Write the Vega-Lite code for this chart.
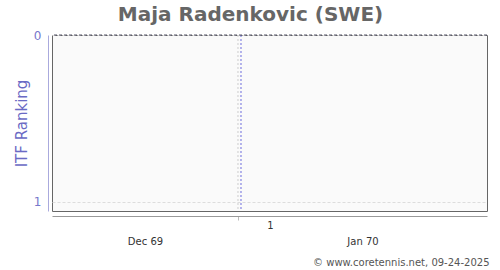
{
  "$schema": "https://vega.github.io/schema/vega-lite/v6.json",
  "width": 435,
  "height": 176,
  "autosize": "none",
  "padding": {"left": 52, "top": 35, "right": 13, "bottom": 59},
  "background": "white",
  "config": {
    "view": {"fill": "#fafafa", "stroke": "#666666", "strokeWidth": 1},
    "font": "DejaVu Sans"
  },
  "title": {
    "text": "Maja Radenkovic (SWE)",
    "font": "DejaVu Sans",
    "fontSize": 20,
    "fontWeight": "bold",
    "color": "#666666",
    "anchor": "middle",
    "dx": -19,
    "offset": 4
  },
  "layer": [
    {
      "data": {"values": [{"t": 0}]},
      "mark": {"type": "rule", "color": "#cccccc", "strokeDash": [2, 2], "strokeWidth": 1},
      "encoding": {
        "x": {
          "field": "t",
          "type": "quantitative",
          "scale": {"domain": [-2.906, 3.891], "nice": false, "zero": false},
          "axis": {
            "orient": "bottom",
            "values": [0],
            "labelExpr": "'1'",
            "grid": false,
            "offset": 5,
            "domainColor": "#999999",
            "tickColor": "#bbbbbb",
            "tickSize": 4,
            "labelOffset": 32,
            "labelPadding": 0,
            "labelColor": "#333333",
            "labelFontSize": 10,
            "title": null
          }
        }
      }
    },
    {
      "data": {"values": [{"t": 0.047}]},
      "mark": {"type": "rule", "color": "#6b6bdd", "strokeDash": [2, 2], "strokeWidth": 1},
      "encoding": {
        "x": {
          "field": "t",
          "type": "quantitative",
          "axis": {
            "orient": "bottom",
            "values": [-1.453, 1.945],
            "labelExpr": "datum.value < 0 ? 'Dec 69' : 'Jan 70'",
            "grid": false,
            "domain": false,
            "ticks": false,
            "offset": 5,
            "labelPadding": 20,
            "labelColor": "#333333",
            "labelFontSize": 10,
            "title": "© www.coretennis.net, 09-24-2025",
            "titleAnchor": "end",
            "titleX": 437,
            "titleFontSize": 10,
            "titleFontWeight": "normal",
            "titleColor": "#555555",
            "titlePadding": 11
          }
        }
      }
    },
    {
      "data": {"values": [{"r": 0}]},
      "mark": {"type": "rule", "color": "#555566", "strokeDash": [3, 2], "strokeWidth": 1},
      "encoding": {
        "y": {
          "field": "r",
          "type": "quantitative",
          "scale": {"domain": [0, 1.054], "nice": false, "zero": false, "reverse": true},
          "axis": {
            "values": [0, 1],
            "format": "d",
            "grid": true,
            "gridColor": "#dddddd",
            "gridDash": [3, 2],
            "offset": 4,
            "domainColor": "#aaaadd",
            "ticks": false,
            "labelPadding": 7,
            "labelColor": "#7777cc",
            "labelFontSize": 12,
            "title": "ITF Ranking",
            "titleColor": "#6a6ac4",
            "titleFontSize": 15,
            "titleFontWeight": "normal",
            "titlePadding": 4
          }
        }
      }
    }
  ],
  "resolve": {"axis": {"x": "independent"}}
}
